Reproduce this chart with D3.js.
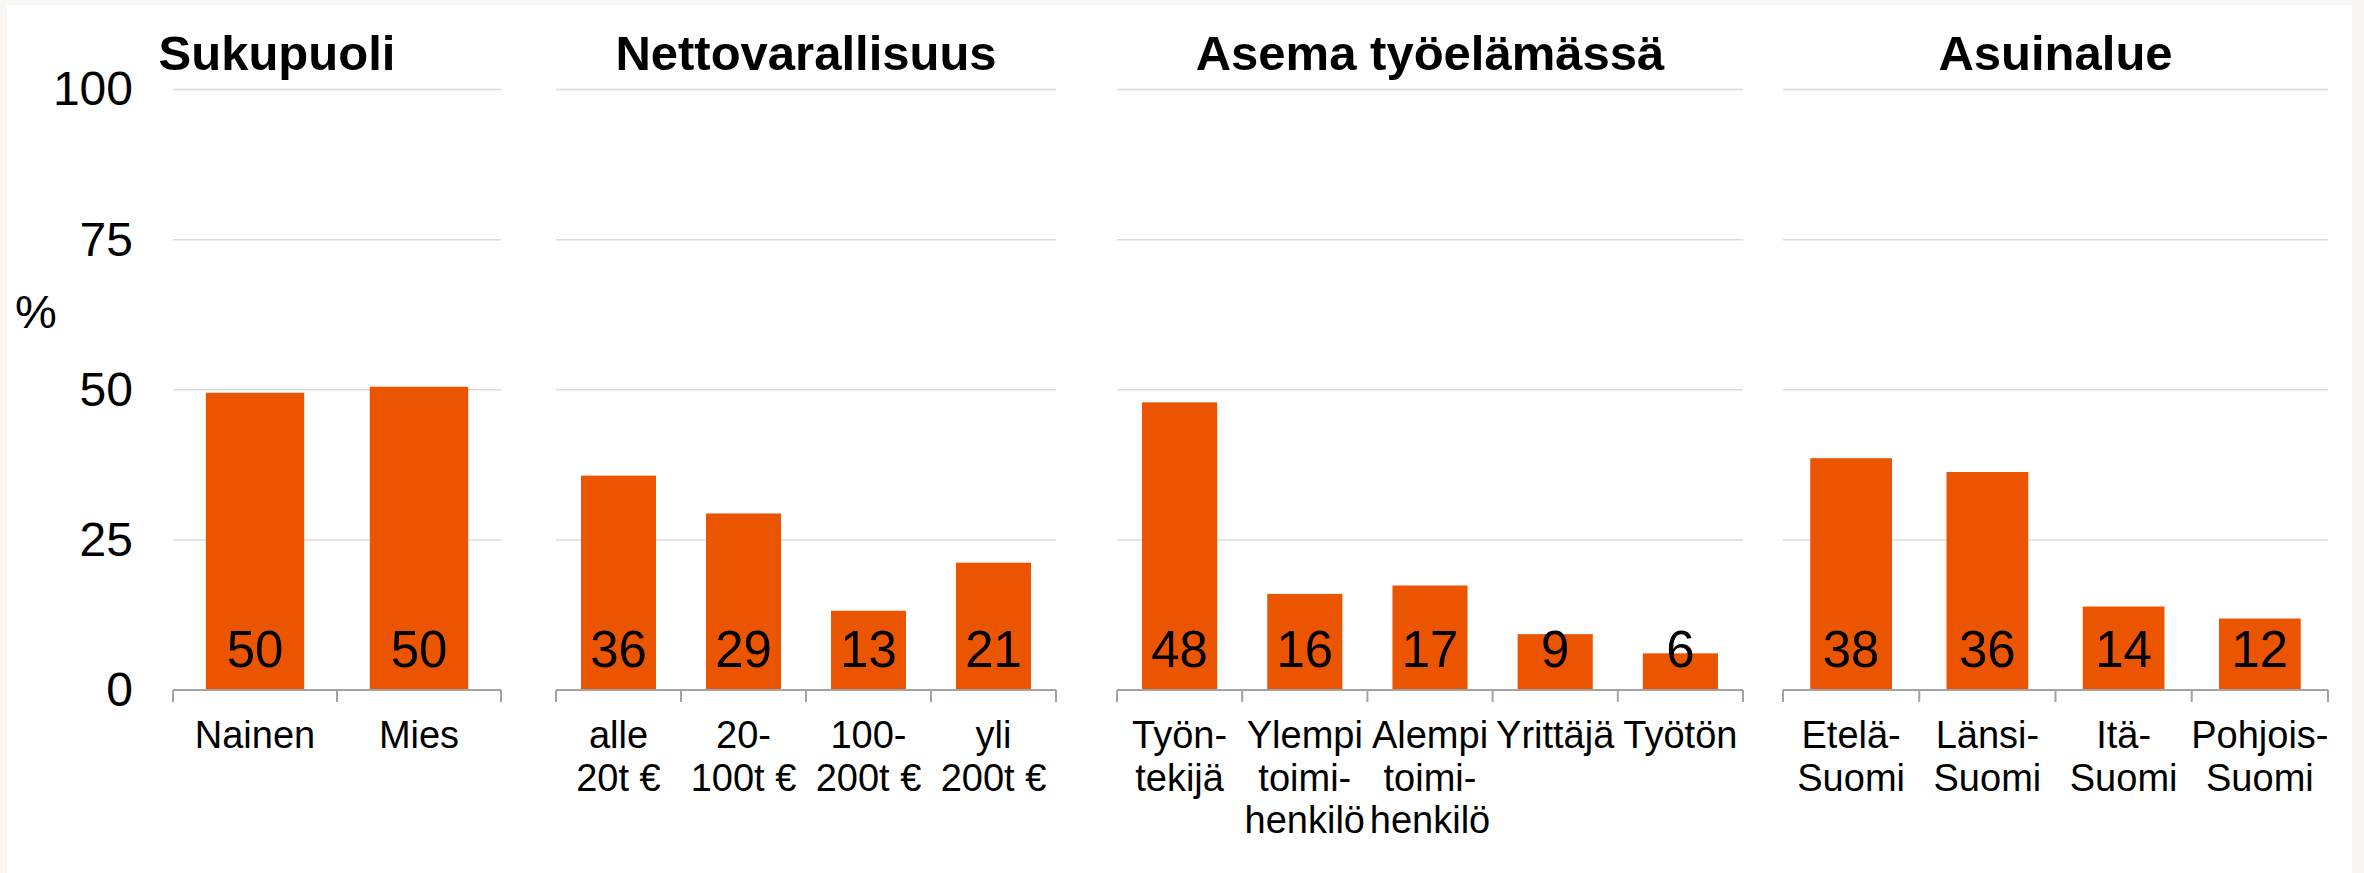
<!DOCTYPE html>
<html>
<head>
  <meta charset="UTF-8">
  <title>Jakaumat</title>
  <script src="https://d3js.org/d3.v7.min.js"></script>
  <style>
    body { margin: 0; background: #faf6f3; }
    svg { display: block; font-family: "Liberation Sans", Arial, sans-serif; }
  </style>
</head>
<body>
<svg width="2364" height="873"></svg>
<script>
  // Data
  const panelTitles = ["Sukupuoli", "Nettovarallisuus", "Asema työelämässä", "Asuinalue"];

  const sukupuoliCats = ["Nainen", "Mies"];
  const sukupuoliValues = [49.5, 50.5];
  const sukupuoliLabels = ["50", "50"];

  const varallisuusCats = ["alle\n20t €", "20-\n100t €", "100-\n200t €", "yli\n200t €"];
  const varallisuusValues = [35.7, 29.4, 13.2, 21.2];
  const varallisuusLabels = ["36", "29", "13", "21"];

  const asemaCats = ["Työn-\ntekijä", "Ylempi\ntoimi-\nhenkilö", "Alempi\ntoimi-\nhenkilö", "Yrittäjä", "Työtön"];
  const asemaValues = [47.9, 16.0, 17.4, 9.3, 6.1];
  const asemaLabels = ["48", "16", "17", "9", "6"];

  const alueCats = ["Etelä-\nSuomi", "Länsi-\nSuomi", "Itä-\nSuomi", "Pohjois-\nSuomi"];
  const alueValues = [38.6, 36.3, 13.9, 11.9];
  const alueLabels = ["38", "36", "14", "12"];

  const yTicks = [0, 25, 50, 75, 100];
  const yAxisTitle = "%";

  // Layout
  const panelRanges = [[173, 501], [556, 1056], [1117, 1743], [1783, 2328]];
  const titleShift = [-60, 0, 0, 0];
  const barColor = "#eb5500";

  const panels = [
    { cats: sukupuoliCats, values: sukupuoliValues, labels: sukupuoliLabels },
    { cats: varallisuusCats, values: varallisuusValues, labels: varallisuusLabels },
    { cats: asemaCats, values: asemaValues, labels: asemaLabels },
    { cats: alueCats, values: alueValues, labels: alueLabels }
  ];

  const svg = d3.select("svg");

  // white plotting card inside the light frame
  svg.append("rect")
    .attr("x", 7).attr("y", 5)
    .attr("width", 2345).attr("height", 868)
    .attr("fill", "#ffffff");

  const y = d3.scaleLinear().domain([0, 100]).range([690, 89.5]);

  // y axis labels
  const yAxis = svg.append("g")
    .attr("transform", "translate(142,0)")
    .call(d3.axisLeft(y).tickValues(yTicks).tickSize(0).tickPadding(9));
  yAxis.select(".domain").remove();
  yAxis.selectAll("text")
    .attr("font-size", "48px")
    .attr("font-family", "'Liberation Sans', Arial, sans-serif")
    .attr("fill", "#000");

  svg.append("text")
    .attr("x", 15).attr("y", 328)
    .attr("font-size", "47px")
    .text(yAxisTitle);

  panels.forEach((p, i) => {
    const [x0, x1] = panelRanges[i];
    const x = d3.scaleBand()
      .domain(p.cats)
      .range([x0, x1])
      .paddingInner(0.4)
      .paddingOuter(0.2);
    const g = svg.append("g");

    // gridlines
    g.selectAll(".grid")
      .data(yTicks.filter(t => t > 0))
      .enter().append("line")
      .attr("x1", x0).attr("x2", x1)
      .attr("y1", d => y(d)).attr("y2", d => y(d))
      .attr("stroke", "#dcdcdc")
      .attr("stroke-width", 1.5);

    // bars
    g.selectAll(".bar")
      .data(p.cats)
      .enter().append("rect")
      .attr("x", d => x(d))
      .attr("width", x.bandwidth())
      .attr("y", (d, j) => y(p.values[j]))
      .attr("height", (d, j) => y(0) - y(p.values[j]))
      .attr("fill", barColor);

    // value labels
    g.selectAll(".val")
      .data(p.cats)
      .enter().append("text")
      .attr("x", d => x(d) + x.bandwidth() / 2)
      .attr("y", y(0) - 23)
      .attr("text-anchor", "middle")
      .attr("font-size", "51px")
      .text((d, j) => p.labels[j]);

    // x axis line and boundary ticks
    g.append("line")
      .attr("x1", x0).attr("x2", x1)
      .attr("y1", y(0)).attr("y2", y(0))
      .attr("stroke", "#a3a3a3")
      .attr("stroke-width", 2);
    const bounds = d3.range(p.cats.length + 1).map(k => x0 + k * x.step());
    g.selectAll(".tick")
      .data(bounds)
      .enter().append("line")
      .attr("x1", d => d).attr("x2", d => d)
      .attr("y1", y(0)).attr("y2", y(0) + 12)
      .attr("stroke", "#a3a3a3")
      .attr("stroke-width", 2);

    // category labels
    const cat = g.selectAll(".cat")
      .data(p.cats)
      .enter().append("text")
      .attr("text-anchor", "middle")
      .attr("font-size", "38px")
      .attr("y", y(0) + 58);
    cat.each(function(d) {
      const cx = x(d) + x.bandwidth() / 2;
      d.split("\n").forEach((line, k) => {
        d3.select(this).append("tspan")
          .attr("x", cx)
          .attr("dy", k === 0 ? 0 : 42.5)
          .text(line);
      });
    });

    // title
    svg.append("text")
      .attr("x", (x0 + x1) / 2 + titleShift[i])
      .attr("y", 70)
      .attr("text-anchor", "middle")
      .attr("font-size", "49px")
      .attr("font-weight", "bold")
      .text(panelTitles[i]);
  });
</script>
</body>
</html>
